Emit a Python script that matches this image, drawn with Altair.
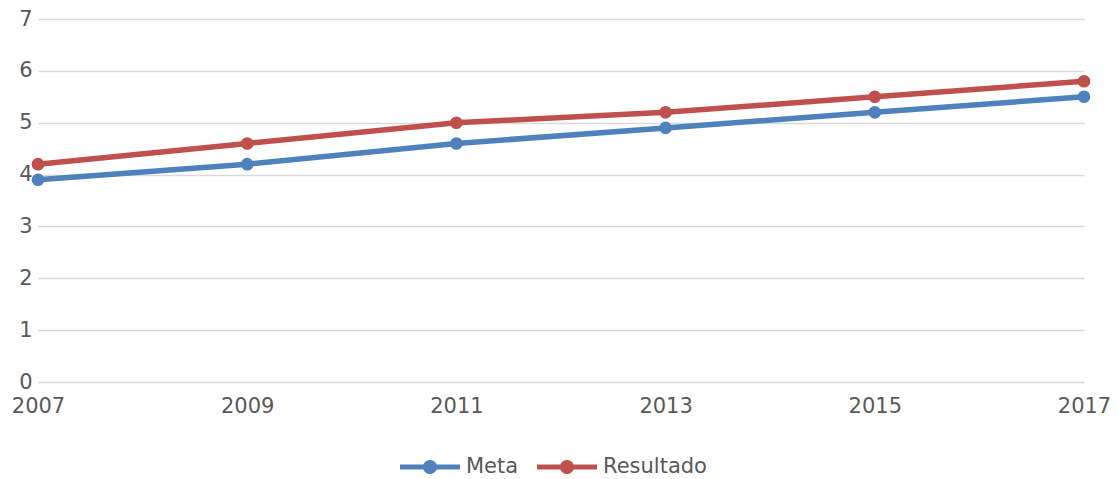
import altair as alt
import pandas as pd

years = [2007, 2009, 2011, 2013, 2015, 2017]
meta = [3.9, 4.2, 4.6, 4.9, 5.2, 5.5]
resultado = [4.2, 4.6, 5.0, 5.2, 5.5, 5.8]
series = ["Meta", "Resultado"]
colors = ["#4f81bd", "#c0504d"]

rows = []
for y, m, r in zip(years, meta, resultado):
    rows.append({"ano": y, "serie": "Meta", "valor": m})
    rows.append({"ano": y, "serie": "Resultado", "valor": r})
df = pd.DataFrame(rows)

sym = ("M-1,-0.085 L1,-0.085 L1,0.085 L-1,0.085 Z "
       "M-0.235,0 A0.235,0.235 0 1,1 0.235,0 A0.235,0.235 0 1,1 -0.235,0 Z")

FONT = "DejaVu Sans"

x = alt.X("ano:Q", scale=alt.Scale(domain=[2007, 2017], nice=False, zero=False),
          axis=alt.Axis(values=years, format="d", title=None, grid=False, domain=False,
                        ticks=False, labelPadding=13, labelFlush=False))
y = alt.Y("valor:Q", scale=alt.Scale(domain=[0, 7], nice=False),
          axis=alt.Axis(values=list(range(8)), title=None, domain=False, ticks=False,
                        labelPadding=6, gridColor="#d9d9d9", gridWidth=1.5))
legend = alt.Legend(title=None, orient="none", direction="horizontal",
                    legendX=362, legendY=418,
                    symbolType=sym, symbolSize=3600, symbolStrokeWidth=0,
                    symbolOpacity=1,
                    labelFontSize=21, labelColor="#595959",
                    columnPadding=18, labelOffset=6)

base = alt.Chart(df)
line_layers = [
    base.transform_filter(alt.datum.serie == s).mark_line(strokeWidth=5.5, color=c).encode(x=x, y=y)
    for s, c in zip(series, colors)
]
points = base.mark_circle(size=160, opacity=1).encode(
    x=x, y=y,
    color=alt.Color("serie:N", scale=alt.Scale(domain=series, range=colors), legend=legend),
)

chart = alt.layer(*line_layers, points).properties(
    width=1046, height=363,
    autosize=alt.AutoSizeParams(type="none"),
    padding={"left": 30, "top": 11, "right": 27, "bottom": 97},
).configure_view(stroke=None).configure_axis(
    labelFont=FONT, labelFontSize=21, labelColor="#595959"
).configure_legend(labelFont=FONT)

chart.save("out.html", embed_options={"renderer": "svg", "actions": False})
